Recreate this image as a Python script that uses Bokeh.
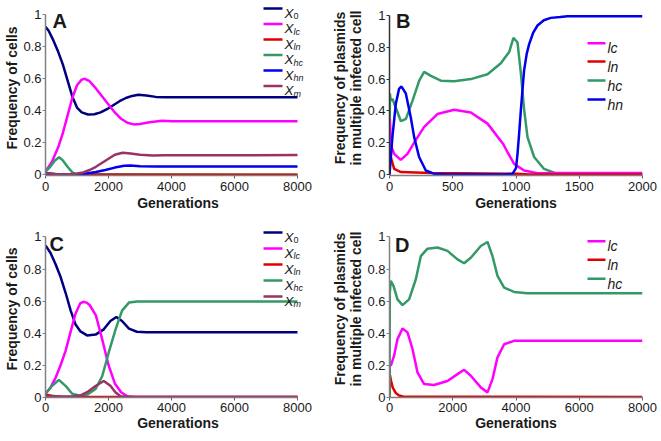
from bokeh.plotting import figure
from bokeh.models import Range1d, FixedTicker, Label, BoxAnnotation
from bokeh.layouts import column, row
from bokeh.embed import file_html
from bokeh.resources import INLINE

FONT = "Liberation Sans"

# ---------------- data ----------------
# Panel A (cells), generations 0-8000
A_x0_t = [0, 100, 250, 400, 550, 700, 850, 1000, 1150, 1350, 1550, 1750, 1950, 2150, 2350, 2550, 2750, 2950, 3200, 3500, 3800, 4200, 8000]
A_x0 = [0.925, 0.90, 0.84, 0.77, 0.69, 0.59, 0.49, 0.42, 0.39, 0.377, 0.378, 0.39, 0.41, 0.435, 0.46, 0.48, 0.493, 0.50, 0.495, 0.487, 0.485, 0.485, 0.485]
A_lc_t = [0, 200, 400, 550, 700, 850, 1000, 1150, 1250, 1400, 1600, 1800, 2000, 2200, 2400, 2600, 2800, 3000, 3300, 3700, 4000, 8000]
A_lc = [0.02, 0.08, 0.17, 0.26, 0.37, 0.48, 0.56, 0.595, 0.60, 0.585, 0.54, 0.49, 0.44, 0.39, 0.35, 0.325, 0.315, 0.318, 0.328, 0.338, 0.335, 0.335]
A_ln_t = [0, 300, 600, 8000]
A_ln = [0.01, 0.002, 0.0, 0.0]
A_hc_t = [0, 150, 300, 430, 550, 700, 850, 1000, 8000]
A_hc = [0.02, 0.05, 0.09, 0.11, 0.09, 0.05, 0.015, 0.003, 0.0]
A_hn_t = [0, 500, 1000, 1300, 1600, 1900, 2200, 2500, 2700, 3000, 3500, 8000]
A_hn = [0.01, 0.0, 0.002, 0.008, 0.018, 0.03, 0.045, 0.057, 0.058, 0.054, 0.052, 0.052]
A_m_t = [0, 400, 800, 1000, 1200, 1400, 1600, 1800, 2000, 2200, 2450, 2700, 3000, 3400, 3800, 8000]
A_m = [0.01, 0.003, 0.003, 0.008, 0.015, 0.03, 0.05, 0.075, 0.10, 0.125, 0.138, 0.133, 0.125, 0.12, 0.122, 0.123]

# Panel B (plasmids), generations 0-2000
B_lc_t = [0, 3, 12, 37, 89, 142, 195, 274, 379, 511, 643, 775, 900, 933, 985, 1064, 1170, 1300, 2000]
B_lc = [0, 0.35, 0.18, 0.13, 0.092, 0.13, 0.20, 0.30, 0.38, 0.407, 0.39, 0.32, 0.19, 0.14, 0.067, 0.025, 0.008, 0.01, 0.01]
B_ln_t = [0, 3, 10, 37, 90, 327, 1012, 1100, 2000]
B_ln = [0, 0.14, 0.11, 0.035, 0.015, 0.01, 0.004, 0.0, 0.0]
B_hc_t = [0, 3, 10, 24, 50, 90, 130, 182, 235, 274, 327, 406, 511, 643, 775, 880, 946, 980, 1012, 1038, 1064, 1091, 1143, 1222, 1328, 1500, 2000]
B_hc = [0, 0.51, 0.465, 0.475, 0.42, 0.335, 0.35, 0.465, 0.59, 0.645, 0.62, 0.59, 0.587, 0.60, 0.63, 0.70, 0.77, 0.86, 0.83, 0.64, 0.41, 0.235, 0.11, 0.035, 0.004, 0.002, 0.002]
B_hn_t = [0, 10, 23, 50, 76, 95, 129, 168, 195, 234, 287, 350, 450, 900, 972, 1000, 1012, 1025, 1038, 1051, 1064, 1085, 1104, 1135, 1170, 1220, 1275, 1350, 1407, 2000]
B_hn = [0, 0.10, 0.235, 0.445, 0.54, 0.553, 0.51, 0.36, 0.235, 0.11, 0.025, 0.005, 0.0, 0.0, 0.004, 0.04, 0.13, 0.26, 0.40, 0.53, 0.655, 0.76, 0.82, 0.89, 0.937, 0.97, 0.985, 0.99, 0.995, 0.995]

# Panel C (cells), generations 0-8000
C_x0_t = [0, 160, 320, 480, 640, 800, 950, 1110, 1320, 1590, 1850, 2060, 2250, 2430, 2650, 2900, 3200, 8000]
C_x0 = [0.948, 0.90, 0.83, 0.75, 0.65, 0.54, 0.455, 0.41, 0.385, 0.39, 0.423, 0.475, 0.50, 0.475, 0.427, 0.408, 0.405, 0.405]
C_lc_t = [0, 160, 320, 480, 640, 800, 950, 1100, 1200, 1300, 1400, 1600, 1800, 2000, 2200, 2400, 2600, 2800, 8000]
C_lc = [0.02, 0.06, 0.12, 0.20, 0.29, 0.41, 0.52, 0.585, 0.595, 0.59, 0.575, 0.51, 0.36, 0.20, 0.085, 0.03, 0.005, 0.0, 0.0]
C_ln_t = [0, 200, 500, 8000]
C_ln = [0.015, 0.008, 0.0, 0.0]
C_hc_t = [0, 212, 424, 635, 847, 1058, 1323, 1590, 1800, 2010, 2220, 2430, 2650, 2910, 3200, 8000]
C_hc = [0.02, 0.07, 0.107, 0.07, 0.02, 0.01, 0.015, 0.05, 0.13, 0.28, 0.42, 0.54, 0.59, 0.597, 0.597, 0.597]
C_m_t = [0, 500, 900, 1110, 1320, 1590, 1850, 2060, 2220, 2380, 2600, 8000]
C_m = [0.005, 0.003, 0.005, 0.01, 0.03, 0.069, 0.10, 0.07, 0.03, 0.005, 0.0, 0.0]

# Panel D (plasmids), generations 0-8000
D_lc_t = [0, 10, 41, 145, 253, 411, 569, 727, 885, 1094, 1410, 1834, 2150, 2359, 2571, 2887, 3099, 3257, 3415, 3624, 3940, 8000]
D_lc = [0, 0.22, 0.195, 0.258, 0.362, 0.428, 0.404, 0.30, 0.154, 0.081, 0.075, 0.10, 0.143, 0.17, 0.133, 0.06, 0.029, 0.112, 0.248, 0.33, 0.351, 0.352]
D_ln_t = [0, 10, 50, 100, 200, 300, 450, 8000]
D_ln = [0, 0.14, 0.10, 0.06, 0.025, 0.01, 0.002, 0.0]
D_hc_t = [0, 10, 41, 126, 253, 411, 620, 832, 990, 1201, 1518, 1834, 2150, 2359, 2571, 2887, 3099, 3257, 3415, 3624, 3940, 4363, 8000]
D_hc = [0, 0.65, 0.726, 0.695, 0.61, 0.574, 0.61, 0.736, 0.88, 0.927, 0.934, 0.913, 0.86, 0.836, 0.87, 0.944, 0.969, 0.88, 0.757, 0.684, 0.657, 0.649, 0.648]

# ticks
ticks_8000 = [0, 2000, 4000, 6000, 8000]
labels_8000 = ["0", "2000", "4000", "6000", "8000"]
ticks_2000 = [0, 500, 1000, 1500, 2000]
labels_2000 = ["0", "500", "1000", "1500", "2000"]
y_ticks = [0, 0.2, 0.4, 0.6, 0.8, 1.0]
y_labels = ["0", "0.2", "0.4", "0.6", "0.8", "1"]

COL = {"0": "#00007F", "lc": "#FF00FF", "ln": "#E00000", "hc": "#339966",
       "hn": "#0000EE", "m": "#993366"}
INK = "#1a1a1a"


def make_fig(w, h, xr, yr, xbounds, xt, xl, ylabel, bl, br, bb, lab_so, ax_so, yaxis_col):
    p = figure(width=w, height=h, x_range=Range1d(*xr), y_range=Range1d(*yr),
               output_backend="svg", toolbar_location=None,
               min_border_left=bl, min_border_right=br, min_border_top=0, min_border_bottom=bb)
    p.xgrid.visible = False
    p.ygrid.visible = False
    p.outline_line_color = None
    p.xaxis.ticker = FixedTicker(ticks=xt)
    p.xaxis.major_label_overrides = {t: l for t, l in zip(xt, xl)}
    p.yaxis.ticker = FixedTicker(ticks=y_ticks)
    p.yaxis.major_label_overrides = {t: l for t, l in zip(y_ticks, y_labels)}
    p.xaxis.bounds = xbounds
    p.yaxis.bounds = (0, 1)
    p.xaxis.axis_label = "Generations"
    p.yaxis.axis_label = ylabel
    for ax in (p.xaxis[0], p.yaxis[0]):
        ax.axis_line_width = 1.5
        ax.major_tick_out = 3
        ax.major_tick_in = 0
        ax.minor_tick_line_color = None
        ax.major_label_text_font = FONT
        ax.major_label_text_font_size = "13px"
        ax.major_label_text_color = INK
        ax.axis_label_text_font = FONT
        ax.axis_label_text_font_style = "bold"
        ax.axis_label_text_font_size = "14px"
        ax.axis_label_text_color = INK
        ax.axis_label_text_line_height = 1.0
    p.xaxis.axis_line_color = "#808080"
    p.xaxis.major_tick_line_color = "#606060"
    p.yaxis.axis_line_color = yaxis_col
    p.yaxis.major_tick_line_color = yaxis_col
    p.xaxis.major_label_standoff = lab_so
    p.xaxis.axis_label_standoff = ax_so
    p.yaxis.major_label_standoff = 1
    p.yaxis.axis_label_standoff = 0
    return p


def letter(p, txt, x, y):
    p.add_layout(Label(x=x, y=y, x_units="screen", y_units="screen", text=txt,
                       text_font=FONT, text_font_style="bold", text_font_size="20px",
                       text_color=INK, text_baseline="alphabetic"))


def legend_x(p, keys, x0, rows):
    for k, y in zip(keys, rows):
        p.add_layout(BoxAnnotation(left=x0, right=x0 + 19, bottom=y - 1.3, top=y + 1.3,
                                   left_units="screen", right_units="screen",
                                   top_units="screen", bottom_units="screen",
                                   fill_color=COL[k], fill_alpha=1.0, line_color=None))
        p.add_layout(Label(x=x0 + 21, y=y - 4.5, x_units="screen", y_units="screen", text="X",
                           text_font=FONT, text_font_style="italic", text_font_size="13.5px",
                           text_color=INK, text_baseline="alphabetic"))
        p.add_layout(Label(x=x0 + 30, y=y - 7.5, x_units="screen", y_units="screen", text=k,
                           text_font=FONT, text_font_style="normal" if k == "0" else "italic",
                           text_font_size="9px", text_color=INK, text_baseline="alphabetic"))


def legend_p(p, keys, x0, rows):
    for k, y in zip(keys, rows):
        p.add_layout(BoxAnnotation(left=x0, right=x0 + 18, bottom=y - 1.3, top=y + 1.3,
                                   left_units="screen", right_units="screen",
                                   top_units="screen", bottom_units="screen",
                                   fill_color=COL[k], fill_alpha=1.0, line_color=None))
        p.add_layout(Label(x=x0 + 20, y=y - 5, x_units="screen", y_units="screen", text=k,
                           text_font=FONT, text_font_style="italic", text_font_size="14px",
                           text_color=INK, text_baseline="alphabetic"))


LW = 2.5
PLASMID_LABEL = "Frequency of plasmids\nin multiple infected cell"

# Panel A: frame 45..310 px, 252 px per 8000 generations
pa = make_fig(326, 220, (0, 8412.7), (-0.0044, 1.0894), (0, 8000), ticks_8000, labels_8000,
              "Frequency of cells", 45, 16, 45, 3, 1, "#808080")
for t, v, k in [(A_x0_t, A_x0, "0"), (A_lc_t, A_lc, "lc"), (A_hc_t, A_hc, "hc"),
                (A_ln_t, A_ln, "ln"), (A_hn_t, A_hn, "hn"), (A_m_t, A_m, "m")]:
    pa.line(t, v, line_color=COL[k], line_width=LW)
letter(pa, "A", 7, 154.3)
legend_x(pa, ["0", "lc", "ln", "hc", "hn", "m"], 218, [167, 151.5, 136, 120.5, 105, 89.5])

# Panel B
pb = make_fig(334, 220, (0, 2000), (-0.0063, 1.0943), (0, 2000), ticks_2000, labels_2000,
              PLASMID_LABEL, 63, 18, 45, 3, 1, "#333333")
for t, v, k in [(B_hc_t, B_hc, "hc"), (B_lc_t, B_lc, "lc"), (B_ln_t, B_ln, "ln"), (B_hn_t, B_hn, "hn")]:
    pb.line(t, v, line_color=COL[k], line_width=LW)
letter(pb, "B", 6.5, 154.3)
legend_p(pb, ["lc", "ln", "hc", "hn"], 198, [132.3, 114, 95, 76])

# Panel C
pc = make_fig(326, 220, (0, 8412.7), (-0.003, 1.1031), (0, 8000), ticks_8000, labels_8000,
              "Frequency of cells", 45, 16, 43, 2, 0, "#808080")
for t, v, k in [(C_x0_t, C_x0, "0"), (C_lc_t, C_lc, "lc"), (C_hc_t, C_hc, "hc"),
                (C_ln_t, C_ln, "ln"), (C_m_t, C_m, "m")]:
    pc.line(t, v, line_color=COL[k], line_width=LW)
letter(pc, "C", 4, 153.7)
legend_x(pc, ["0", "lc", "ln", "hc", "m"], 218, [165, 149, 133, 117, 101])

# Panel D
pd_ = make_fig(334, 220, (0, 8000), (-0.003, 1.1031), (0, 8000), ticks_8000, labels_8000,
               PLASMID_LABEL, 63, 18, 43, 2, 0, "#808080")
for t, v, k in [(D_lc_t, D_lc, "lc"), (D_ln_t, D_ln, "ln"), (D_hc_t, D_hc, "hc")]:
    pd_.line(t, v, line_color=COL[k], line_width=LW)
letter(pd_, "D", 5.5, 153)
legend_p(pd_, ["lc", "ln", "hc"], 198, [156.3, 137.7, 118.7])

layout = column(row(pa, pb), row(pc, pd_))
open("out.html", "w").write(file_html(layout, INLINE))
